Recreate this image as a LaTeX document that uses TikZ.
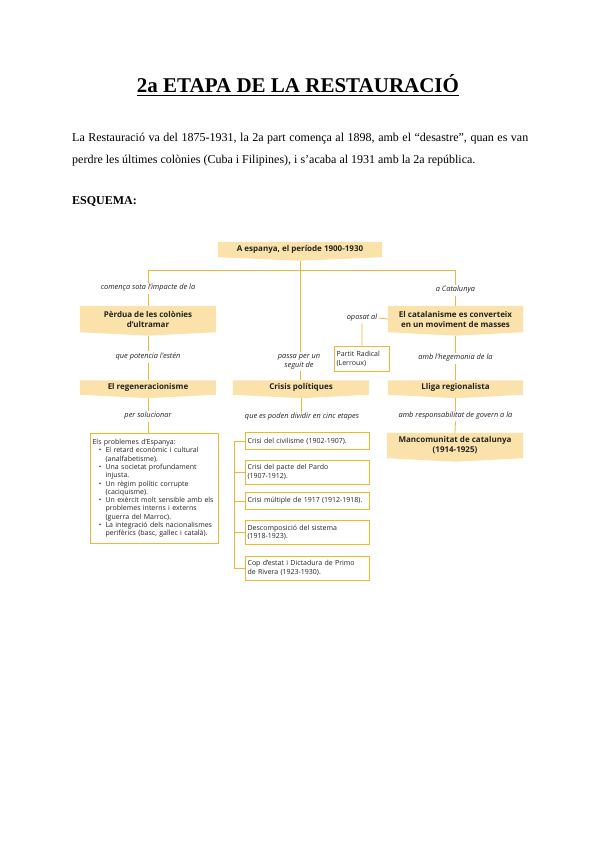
\documentclass[tikz,border=0pt]{standalone}
\usepackage{fontspec}
\setmainfont{Liberation Serif}
\newfontfamily\dsans{Open Sans}
\usetikzlibrary{backgrounds,calc}
\definecolor{bfill}{HTML}{FAE2AA}
\definecolor{bline}{HTML}{F2B632}
\definecolor{dtext}{HTML}{222222}
\newcommand{\bul}[1]{\makebox[13pt][r]{\textbullet\hspace{4pt}}#1}
\newcommand{\cont}[1]{\hspace*{13pt}#1}
\begin{document}
\begin{tikzpicture}[x=1pt,y=-1pt,
  conn/.style={draw=bline, line width=0.8pt},
  lbl/.style={font=\dsans\itshape\fontsize{7.4}{8.8}\selectfont, inner sep=1.6pt, text=dtext, align=center},
  bann/.style={font=\dsans\bfseries\fontsize{8}{10}\selectfont, align=center, inner sep=0pt, text=dtext},
  wbox/.style={draw=bline, line width=0.8pt, fill=white, font=\dsans\fontsize{7}{8.3}\selectfont, align=left, inner sep=2.2pt, text=dtext},
  crbox/.style={wbox, anchor=west, text width=119.6pt, minimum width=124pt}
]
\useasboundingbox (0,0) rectangle (600,848);

% heading
\node[anchor=base, inner sep=0] (title) at (298,93) {\fontsize{21}{24}\selectfont\bfseries 2a ETAPA DE LA RESTAURACIÓ};
\draw[line width=1pt] ($(title.base west)+(0,2.8)$) -- ($(title.base east)+(0,2.8)$);
\node[anchor=base west, inner sep=0] (p1) at (72,141) {\fontsize{12}{14}\selectfont\makebox[456pt][s]{La Restauració va del 1875-1931, la 2a part comença al 1898, amb el “desastre”, quan es van}};
\node[anchor=base west, inner sep=0] (p2) at (72,163) {\fontsize{12}{14}\selectfont perdre les últimes colònies (Cuba i Filipines), i s’acaba al 1931 amb la 2a república.};
\node[anchor=base west, inner sep=0] (esq) at (72,204) {\fontsize{12}{14}\selectfont\bfseries ESQUEMA:};

% banners
\node[bann, minimum width=164pt, minimum height=15pt] (top) at (300,249.5) {A espanya, el període 1900-1930};
\node[bann, minimum width=136pt, minimum height=26pt] (perdua) at (148,319) {Pèrdua de les colònies\\d’ultramar};
\node[bann, minimum width=136pt, minimum height=14pt] (regen) at (148,387.5) {El regeneracionisme};
\node[bann, minimum width=136pt, minimum height=14pt] (crisis) at (301,387.5) {Crisis polítiques};
\node[bann, minimum width=135pt, minimum height=26pt] (catal) at (455.5,319) {El catalanisme es converteix\\en un moviment de masses};
\node[bann, minimum width=135pt, minimum height=14pt] (lliga) at (455.5,387.5) {Lliga regionalista};
\node[bann, minimum width=136pt, minimum height=25pt] (manc) at (455,445.5) {Mancomunitat de catalunya\\(1914-1925)};

\begin{scope}[on background layer]
  \fill[white] (0,0) rectangle (600,848);
  \foreach \n in {top,perdua,regen,crisis,catal,lliga,manc}{
    \fill[bfill] (\n.north west) -- (\n.north east) -- (\n.south east) -- ($(\n.south)+(0,3.5)$) -- (\n.south west) -- cycle;
  }
\end{scope}

% labels
\node[lbl] (lcom) at (148,288) {comença sota l’impacte de la};
\node[lbl] (lpot) at (148,357) {que potencia l’estén};
\node[lbl] (lsol) at (148,416) {per solucionar};
\node[lbl] (lpas) at (299,361.5) {passa per un\\seguit de};
\node[lbl] (ldiv) at (302,417) {que es poden dividir en cinc etapes};
\node[lbl] (lcat) at (455.5,290) {a Catalunya};
\node[lbl] (lopo) at (362,318) {oposat al};
\node[lbl] (lheg) at (455.5,358) {amb l’hegemonia de la};
\node[lbl] (lres) at (455.5,416) {amb responsabilitat de govern a la};

% white boxes
\node[wbox, anchor=north west, text width=123.6pt, minimum height=110pt] (prob) at (90,433) {Els problemes d’Espanya:\\
\bul{El retard econòmic i cultural}\\
\cont{(analfabetisme).}\\
\bul{Una societat profundament}\\
\cont{injusta.}\\
\bul{Un règim polític corrupte}\\
\cont{(caciquisme).}\\
\bul{Un exèrcit molt sensible amb els}\\
\cont{problemes interns i externs}\\
\cont{(guerra del Marroc).}\\
\bul{La integració dels nacionalismes}\\
\cont{perifèrics (basc, gallec i català).}};

\node[wbox, anchor=north west, minimum width=55pt, minimum height=25pt, text width=50.6pt] (partit) at (334,346) {Partit Radical\\(Lerroux)};

\node[crbox, minimum height=17pt] (c1) at (245,441) {Crisi del civilisme (1902-1907).};
\node[crbox, minimum height=24pt] (c2) at (245,472) {Crisi del pacte del Pardo\\(1907-1912).};
\node[crbox, minimum height=17pt] (c3) at (245,501) {Crisi múltiple de 1917 (1912-1918).};
\node[crbox, minimum height=24pt] (c4) at (245,532.5) {Descomposició del sistema\\(1918-1923).};
\node[crbox, minimum height=24pt] (c5) at (245,568) {Cop d’estat i Dictadura de Primo\\de Rivera (1923-1930).};

% connectors
\coordinate (hb) at (300,270);
\coordinate (brk) at (234,0);
\draw[conn] ($(top.south)+(0,3.5)$) -- (hb);
\draw[conn] (perdua.north |- hb) -- (catal.north |- hb);
\draw[conn] (perdua.north |- hb) -- (lcom.north);
\draw[conn] (lcom.south) -- (perdua.north);
\draw[conn] ($(perdua.south)+(0,3.5)$) -- (lpot.north);
\draw[conn] (lpot.south) -- (regen.north);
\draw[conn] ($(regen.south)+(0,3.5)$) -- (lsol.north);
\draw[conn] (lsol.south) -- (lsol.south |- prob.north);
\draw[conn] (hb) -- (hb |- lpas.north);
\draw[conn] (hb |- lpas.south) -- (hb |- crisis.north);
\draw[conn] ($(crisis.south)+(0,3.5)$) -- (ldiv.north -| crisis.south);
\draw[conn] (catal.north |- hb) -- (lcat.north);
\draw[conn] (lcat.south) -- (catal.north);
\draw[conn] (catal.west) -- (lopo.east);
\draw[conn] (lopo.south) -- (partit.north);
\draw[conn] ($(catal.south)+(0,3.5)$) -- (lheg.north);
\draw[conn] (lheg.south) -- (lliga.north);
\draw[conn] ($(lliga.south)+(0,3.5)$) -- (lres.north);
\draw[conn] (lres.south) -- (manc.north);
\draw[conn] (c1.west -| brk) -- (c5.west -| brk);
\foreach \c in {c1,c2,c3,c4,c5}{
  \draw[conn] (\c.west -| brk) -- (\c.west);
}
\end{tikzpicture}
\end{document}
